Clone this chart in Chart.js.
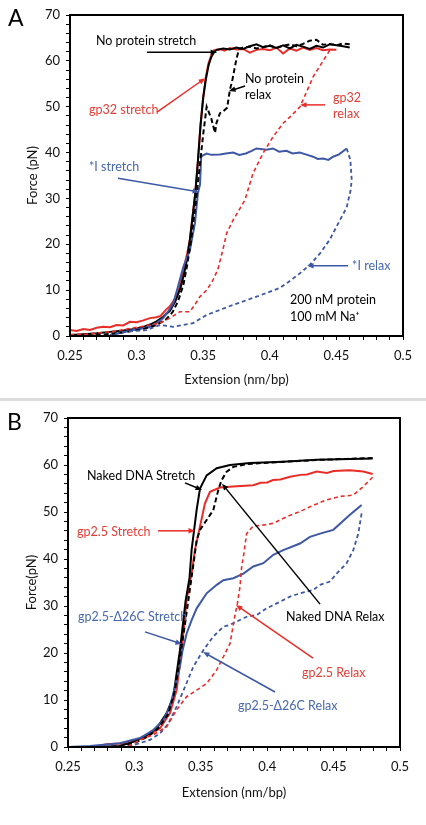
<!DOCTYPE html>
<html>
<head>
<meta charset="utf-8">
<script src="https://cdn.jsdelivr.net/npm/chart.js@4.4.0/dist/chart.umd.min.js"></script>
<style>
  body { margin: 0; background: #fff; width: 426px; height: 825px; overflow: hidden; position: relative; }
  canvas { position: absolute; left: 0; }
  #chartA { top: 0; }
  #chartB { top: 400px; }
  #sep { position: absolute; left: 0; top: 398px; width: 426px; height: 3px; background: #dcdcdc; }
  .panel { position: absolute; font-family: Lato, "Liberation Sans", sans-serif; font-size: 23px; color: #000; }
</style>
</head>
<body>
<canvas id="chartA" width="426" height="398"></canvas>
<div id="sep"></div>
<canvas id="chartB" width="426" height="425"></canvas>
<div class="panel" style="left:8px;top:3px;">A</div>
<div class="panel" style="left:7px;top:407px;">B</div>
<script>
// ---- panel A: 200 nM protein, 100 mM Na+ ----
var npStretchX = [0.25,0.26,0.27,0.28,0.29,0.30,0.305,0.31,0.315,0.32,0.325,0.329,0.333,0.336,0.338,0.340,0.342,0.344,0.346,0.348,0.350,0.352,0.354,0.356,0.358,0.360,0.365,0.370,0.375,0.380,0.385,0.390,0.395,0.400,0.405,0.410,0.415,0.420,0.425,0.430,0.435,0.440,0.445,0.450,0.455,0.460];
var npStretchY = [0.2,0.4,0.6,0.9,1.2,1.6,2.0,2.5,3.2,4.2,5.5,7.5,10.5,14,17,21,26,31,38,46,52,56,59,60.8,61.8,62.4,62.7,62.5,62.9,62.6,63.2,63.6,63.0,63.3,62.8,63.4,62.7,63.5,63.1,62.6,63.3,62.9,63.6,63.4,63.2,62.9];

var npRelaxX = [0.460,0.455,0.450,0.445,0.440,0.435,0.430,0.425,0.420,0.415,0.410,0.405,0.400,0.395,0.390,0.385,0.380,0.377,0.375,0.372,0.370,0.368,0.365,0.3626,0.360,0.3589,0.356,0.3526,0.350,0.347,0.344,0.341,0.338,0.335,0.331,0.327,0.322,0.315,0.305,0.29,0.275,0.26];
var npRelaxY = [63.6,63.8,63.4,63.7,63.5,64.6,64.4,63.7,63.2,63.6,63.3,62.8,63.4,63.0,62.7,63.1,62.9,62.6,60.5,56,53.6,49.8,49.0,48.6,46.5,44.3,47.5,50,44,36,28,21,15.5,11,7.5,5.2,3.6,2.4,1.5,0.8,0.3,0.1];

var gp32StretchX = [0.25,0.255,0.26,0.265,0.27,0.275,0.28,0.285,0.29,0.295,0.30,0.305,0.31,0.315,0.318,0.322,0.325,0.328,0.331,0.333,0.335,0.338,0.340,0.342,0.344,0.346,0.348,0.350,0.352,0.354,0.356,0.358,0.360,0.363,0.366,0.370,0.375,0.380,0.385,0.390,0.395,0.400,0.405,0.410,0.415,0.420,0.425,0.430,0.435,0.440,0.445,0.450];
var gp32StretchY = [1.3,1.1,1.5,1.3,1.8,2.0,1.9,2.4,2.3,3.1,3.0,3.4,3.9,4.1,4.4,5.7,6.5,7.8,9.4,11.5,14.4,18,21,26,31,38,46,52,56.5,59.5,61.2,62.3,62.4,62.5,62.2,62.8,62.5,62.6,61.8,62.4,62.6,62.3,62.9,61.6,62.7,62.2,62.9,62.4,62.8,62.3,62.5,62.4];

var gp32RelaxX = [0.445,0.440,0.4325,0.428,0.4227,0.416,0.41,0.4024,0.395,0.3874,0.3814,0.377,0.3725,0.3676,0.3645,0.361,0.357,0.3526,0.3476,0.343,0.34,0.3326,0.325,0.3176,0.31,0.3025,0.2925,0.2825,0.273,0.263,0.25];
var gp32RelaxY = [62.3,60.0,56.5,53.5,50,48.0,46.4,43.4,39.9,35.5,29.7,27.5,25.3,22.4,18.5,14.5,12.0,10,8.6,6.5,5.3,5.3,3.9,2.8,2.4,2.0,1.5,1.0,0.7,0.4,0.3];

var iStretchX = [0.28,0.29,0.297,0.305,0.31,0.315,0.32,0.324,0.3276,0.331,0.335,0.34,0.3438,0.346,0.3476,0.3485,0.3526,0.356,0.3626,0.367,0.3726,0.377,0.382,0.386,0.39,0.3975,0.4024,0.407,0.4125,0.417,0.4225,0.427,0.4325,0.436,0.44,0.444,0.4475,0.452,0.4577];
var iStretchY = [0.2,0.8,1.3,1.7,2.0,2.8,3.9,5.5,7.2,10.7,15,18.7,24.6,31.1,33,39.2,39.8,39.5,39.6,39.8,40.0,39.5,39.8,40.3,40.9,40.6,40.9,40.2,40.4,39.8,40.0,39.6,39.1,38.6,38.7,38.4,39.1,39.6,40.9];

var iRelaxX = [0.4577,0.4605,0.4615,0.4605,0.459,0.4577,0.4527,0.445,0.4377,0.43,0.4227,0.4127,0.4077,0.3977,0.3874,0.3725,0.3626,0.3526,0.3424,0.335,0.3276,0.3176,0.3076,0.2925,0.28];
var iRelaxY = [40.9,38.4,34,31.5,29.7,28,25.3,21,18,15.5,13.7,11.5,10.5,9.4,8.3,6.8,5.7,4.6,2.8,2.4,2.0,2.4,1.3,1.0,0.2];

// ---- panel B: gp2.5 ----
var nakedStretchX = [0.2716,0.28,0.289,0.299,0.3093,0.3168,0.3243,0.3293,0.3343,0.3385,0.3415,0.3431,0.3469,0.3494,0.3544,0.362,0.372,0.387,0.4119,0.4372,0.4623,0.4794];
var nakedStretchY = [0,0.1,0.2,1.1,2.6,4.0,7.2,10.7,20.6,31,36,42,50.5,55,57.8,59.3,60.0,60.4,60.7,61.1,61.3,61.4];

var nakedRelaxX = [0.4794,0.46,0.44,0.42,0.40,0.385,0.3745,0.3695,0.3657,0.3632,0.3594,0.3544,0.3494,0.3469,0.345,0.3425,0.34,0.3375,0.3343,0.3305,0.3255,0.318,0.31,0.30,0.29,0.28];
var nakedRelaxY = [61.5,61.3,61.1,60.8,60.5,60.2,59.6,58.6,56.8,54.7,50.4,48.3,46.2,44.0,40,35,30,25,19,12,7,4,2.2,0.9,0.2,0];

var gp25StretchX = [0.2716,0.2791,0.2942,0.3093,0.3193,0.3268,0.3318,0.3356,0.3393,0.3431,0.3456,0.3494,0.3531,0.3569,0.3644,0.3743,0.3895,0.395,0.40,0.4044,0.41,0.4172,0.425,0.43,0.4372,0.445,0.45,0.4623,0.4723,0.4794];
var gp25StretchY = [0.1,0.6,0.8,2.2,4.0,7.2,12.1,20.6,31.3,37,42,46.9,51.8,54.3,55.2,55.4,55.7,56.2,56.3,56.8,56.9,57.5,57.9,58.0,58.6,58.3,58.7,58.9,58.6,58.1];

var gp25RelaxX = [0.4794,0.4723,0.4648,0.4548,0.4448,0.4322,0.4247,0.4147,0.4046,0.3996,0.3895,0.3845,0.3821,0.3808,0.3795,0.3776,0.3757,0.372,0.367,0.362,0.3544,0.3469,0.3393,0.3318,0.3243,0.3142,0.3042,0.2942];
var gp25RelaxY = [57.4,55.4,53.6,53.3,52.6,51.1,50.1,49.0,47.6,47.3,47.0,45.4,40.5,38.4,34.1,30.6,28,22.0,19.2,16.4,13.5,12.1,10.7,7.9,4.3,2.6,1.5,0];

var d26StretchX = [0.25,0.2666,0.289,0.3042,0.3142,0.3218,0.3268,0.3306,0.3343,0.3363,0.3394,0.3431,0.3469,0.3544,0.362,0.367,0.3745,0.3821,0.3895,0.3971,0.4046,0.4121,0.4247,0.4322,0.4398,0.4498,0.4623,0.4711];
var d26StretchY = [0,0.2,0.8,1.9,3.6,5.7,8.6,12.8,17.1,20.6,24.2,27.0,29.5,32.7,34.5,35.5,35.9,36.9,38.4,39.1,40.9,41.9,43.3,44.7,45.4,46.2,49.4,51.5];

var d26RelaxX = [0.4711,0.4686,0.4648,0.4598,0.4523,0.4473,0.4398,0.4347,0.4247,0.4172,0.4096,0.3996,0.3921,0.3845,0.377,0.372,0.367,0.3594,0.3519,0.3444,0.3381,0.3318,0.3256,0.3193,0.3117,0.2992,0.2892];
var d26RelaxY = [49.7,45.4,41.9,39.1,36.9,35.2,34.5,33.4,32.7,32.0,30.9,29.5,28.1,27.7,26.7,26.0,25.6,23.5,20.6,17.1,12.8,8.6,5.0,2.9,1.5,0.4,0];

// axis ranges / ticks
var xMin = 0.25, xMax = 0.5, xStep = 0.01, xLabelEvery = 0.05;
var yMin = 0, yMax = 70, yStep = 2, yLabelEvery = 10;

var BLACK = '#000', RED = 'rgb(232,45,40)', BLUE = 'rgb(62,88,165)';
var RED_TXT = 'rgb(228,62,55)', BLUE_TXT = 'rgb(72,104,176)';
var FONT = 'Lato, "Liberation Sans", sans-serif';

// annotation labels, in data units: [text, x, y, color]
var labelsA = [
  ['No protein stretch', 0.2695, 64.3, BLACK],
  ['No protein', 0.3814, 56.0, BLACK],
  ['relax', 0.3814, 52.5, BLACK],
  ['gp32 stretch', 0.2643, 49.3, RED_TXT],
  ['gp32', 0.4475, 51.9, RED_TXT],
  ['relax', 0.4475, 48.4, RED_TXT],
  ['*I stretch', 0.2643, 36.8, BLUE_TXT],
  ['*I relax', 0.4618, 15.3, BLUE_TXT],
  ['200 nM protein', 0.4152, 7.8, BLACK],
  ['100 mM Na\u207A', 0.4152, 4.1, BLACK]
];
// arrows: [x0, y0, x1 (head), y1 (head), color]
var arrowsA = [
  [0.3078, 61.9, 0.3604, 61.9, BLACK],
  [0.3814, 54.5, 0.3694, 53.4, BLACK],
  [0.3153, 48.8, 0.3514, 56.2, RED],
  [0.4415, 50.4, 0.4227, 50.4, RED],
  [0.286, 34.4, 0.3469, 31.4, BLUE],
  [0.4588, 15.3, 0.428, 15.3, BLUE]
];
var labelsB = [
  ['Naked DNA Stretch', 0.2643, 57.7, BLACK],
  ['gp2.5 Stretch', 0.2568, 45.7, RED_TXT],
  ['Naked DNA Relax', 0.4142, 27.7, BLACK],
  ['gp2.5 Relax', 0.4262, 15.7, RED_TXT],
  ['gp2.5-\u039426C Stretch', 0.2575, 27.7, BLUE_TXT],
  ['gp2.5-\u039426C Relax', 0.378, 8.7, BLUE_TXT]
];
var arrowsB = [
  [0.3381, 56.2, 0.3509, 54.7, BLACK],
  [0.3178, 46.0, 0.3456, 46.0, RED],
  [0.4398, 30.4, 0.366, 56.0, BLACK],
  [0.4345, 18.9, 0.3765, 30.2, RED],
  [0.308, 24.5, 0.3358, 21.9, BLUE],
  [0.4059, 11.7, 0.3517, 20.2, BLUE]
];

function pts(xs, ys) {
  return xs.map(function (x, i) { return {x: x, y: ys[i]}; });
}

function line(xs, ys, color, dash, width) {
  return {
    data: pts(xs, ys),
    borderColor: color,
    borderWidth: width,
    borderDash: dash,
    showLine: true,
    pointRadius: 0,
    tension: 0,
    fill: false
  };
}

function near(v, step) {
  return Math.abs(v / step - Math.round(v / step)) < 1e-6;
}

// frame + annotations drawn in data space
function notesPlugin(labels, arrows) {
  return {
    id: 'notes',
    afterDraw: function (chart) {
      var ctx = chart.ctx, a = chart.chartArea;
      var sx = chart.scales.x, sy = chart.scales.y;
      ctx.save();
      ctx.strokeStyle = '#000';
      ctx.lineWidth = 2;
      ctx.strokeRect(a.left, a.top, a.right - a.left, a.bottom - a.top);

      arrows.forEach(function (r) {
        var x0 = sx.getPixelForValue(r[0]), y0 = sy.getPixelForValue(r[1]);
        var x1 = sx.getPixelForValue(r[2]), y1 = sy.getPixelForValue(r[3]);
        var ang = Math.atan2(y1 - y0, x1 - x0), h = 7;
        ctx.strokeStyle = r[4];
        ctx.fillStyle = r[4];
        ctx.lineWidth = 1.5;
        ctx.setLineDash([]);
        ctx.beginPath();
        ctx.moveTo(x0, y0);
        ctx.lineTo(x1 - Math.cos(ang) * h * 0.8, y1 - Math.sin(ang) * h * 0.8);
        ctx.stroke();
        ctx.beginPath();
        ctx.moveTo(x1, y1);
        ctx.lineTo(x1 - h * Math.cos(ang - 0.4), y1 - h * Math.sin(ang - 0.4));
        ctx.lineTo(x1 - h * Math.cos(ang + 0.4), y1 - h * Math.sin(ang + 0.4));
        ctx.closePath();
        ctx.fill();
      });

      ctx.font = '12.5px ' + FONT;
      ctx.textAlign = 'left';
      ctx.textBaseline = 'middle';
      labels.forEach(function (l) {
        ctx.fillStyle = l[3];
        ctx.fillText(l[0], sx.getPixelForValue(l[1]), sy.getPixelForValue(l[2]));
      });
      ctx.restore();
    }
  };
}

function makeChart(id, datasets, yTitle, pad, yWidth, xHeight, labels, arrows) {
  var tickFont = {family: FONT, size: 13};
  return new Chart(document.getElementById(id), {
    type: 'scatter',
    data: {datasets: datasets},
    options: {
      responsive: false,
      animation: false,
      layout: {padding: pad},
      plugins: {legend: {display: false}, tooltip: {enabled: false}},
      scales: {
        x: {
          type: 'linear',
          min: xMin, max: xMax,
          border: {display: false},
          grid: {drawOnChartArea: false, drawTicks: true, tickLength: 4, tickColor: '#000', tickWidth: 1},
          ticks: {
            stepSize: xStep, autoSkip: false, maxRotation: 0, padding: 8,
            color: '#111', font: tickFont,
            callback: function (v) { return near(v, xLabelEvery) ? String(+v.toFixed(2)) : ''; }
          },
          title: {display: true, text: 'Extension (nm/bp)', color: '#111', font: {family: FONT, size: 13}},
          afterFit: function (s) { s.height = xHeight; }
        },
        y: {
          type: 'linear',
          min: yMin, max: yMax,
          border: {display: false},
          grid: {drawOnChartArea: false, drawTicks: true, tickLength: 4, tickColor: '#000', tickWidth: 1},
          ticks: {
            stepSize: yStep, autoSkip: false, padding: 6,
            color: '#111', font: tickFont,
            callback: function (v) { return near(v, yLabelEvery) ? String(v) : ''; }
          },
          title: {display: true, text: yTitle, color: '#111', font: {family: FONT, size: 13}},
          afterFit: function (s) { s.width = yWidth; }
        }
      }
    },
    plugins: [notesPlugin(labels, arrows)]
  });
}

makeChart('chartA', [
  line(gp32RelaxX, gp32RelaxY, RED, [4, 3], 1.6),
  line(iRelaxX, iRelaxY, BLUE, [4, 3], 1.8),
  line(npRelaxX, npRelaxY, BLACK, [5, 3], 2),
  line(iStretchX, iStretchY, BLUE, [], 2),
  line(npStretchX, npStretchY, BLACK, [], 2),
  line(gp32StretchX, gp32StretchY, RED, [], 2)
], 'Force (pN)', {left: 21, right: 23, top: 15, bottom: 6}, 49, 56, labelsA, arrowsA);

makeChart('chartB', [
  line(gp25RelaxX, gp25RelaxY, RED, [4, 3], 1.6),
  line(d26RelaxX, d26RelaxY, BLUE, [4, 3], 1.8),
  line(nakedRelaxX, nakedRelaxY, BLACK, [5, 3], 2),
  line(d26StretchX, d26StretchY, BLUE, [], 2),
  line(nakedStretchX, nakedStretchY, BLACK, [], 2),
  line(gp25StretchX, gp25StretchY, RED, [], 2)
], 'Force(pN)', {left: 20, right: 26, top: 18, bottom: 20}, 48, 58, labelsB, arrowsB);
</script>
</body>
</html>
